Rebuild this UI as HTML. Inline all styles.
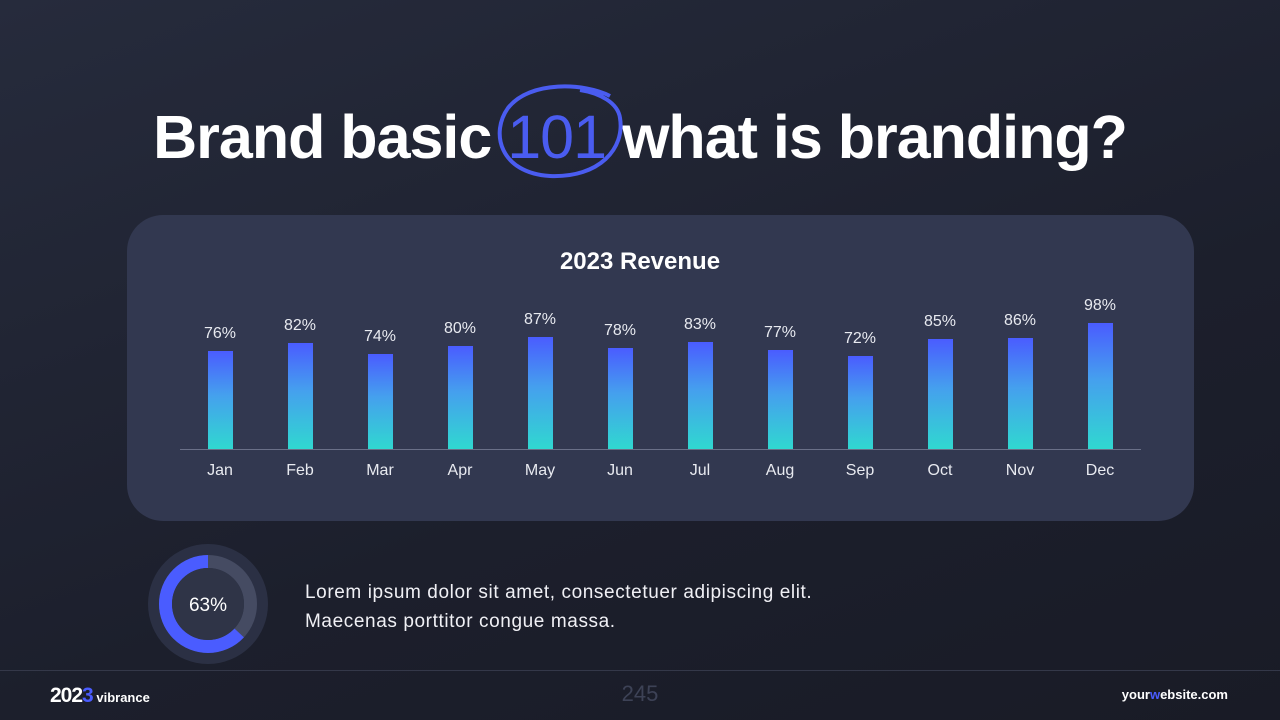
<!DOCTYPE html>
<html><head><meta charset="utf-8"><style>
body{margin:0;width:1280px;height:720px;overflow:hidden;background:linear-gradient(160deg,#262b3c 0%,#1c1f2c 60%,#191b26 100%);font-family:"Liberation Sans",sans-serif;position:relative;color:#fff}
.t{position:absolute;left:0;width:1280px;top:102px;text-align:center;font-size:61px;font-weight:bold;letter-spacing:-1px}
.card{position:absolute;left:127px;top:215px;width:1067px;height:306px;border-radius:36px;background:#323850}
.bar{position:absolute;width:25px;background:linear-gradient(#4a5cff,#45a0ee 45%,#30d8d0)}
.v,.m{position:absolute;width:80px;text-align:center;font-size:16px;color:#e8eaf0}
</style></head><body>
<div class="t">Brand basic <span style="color:#4a5cf0;font-weight:normal">101</span> what is branding?</div>
<svg style="position:absolute;left:490px;top:78px" width="150" height="110"><path d="M120 18 C95 5 40 2 18 30 C0 55 10 95 60 98 C110 100 135 70 130 40 C128 25 110 15 90 12" fill="none" stroke="#4a5cf0" stroke-width="4"/></svg>
<div class="card"></div>
<div style="position:absolute;left:0;width:1280px;top:248px;text-align:center;font-size:24px;font-weight:bold">2023 Revenue</div>
<div style="position:absolute;left:180px;top:449px;width:961px;height:1px;background:#6a7088"></div>
<div id="c"></div>
<svg style="position:absolute;left:148px;top:544px" width="120" height="120">
<circle cx="60" cy="60" r="60" fill="#2b3044"/>
<circle cx="60" cy="60" r="42.5" fill="none" stroke="#454b62" stroke-width="13"/>
<circle cx="60" cy="60" r="42.5" fill="none" stroke="#4a5cff" stroke-width="13" stroke-dasharray="168.2 300" transform="rotate(-90 60 60) scale(1,-1) translate(0,-120)"/>
<circle cx="60" cy="60" r="36" fill="#2f3447"/>
<text x="60" y="67" text-anchor="middle" fill="#fff" font-size="19" font-family="Liberation Sans">63%</text>
</svg>
<div style="position:absolute;left:305px;top:578px;font-size:19px;letter-spacing:0.6px;line-height:29px;color:#f0f0f5">Lorem ipsum dolor sit amet, consectetuer adipiscing elit.<br>Maecenas porttitor congue massa.</div>
<div style="position:absolute;left:0;top:670px;width:1280px;height:1px;background:#343849"></div>
<div style="position:absolute;left:50px;top:684px;font-size:21px;font-weight:bold;letter-spacing:-1px">202<span style="color:#4a5cff">3</span><span style="font-size:13px;letter-spacing:0"> vibrance</span></div>
<div style="position:absolute;left:0;width:1280px;top:681px;text-align:center;font-size:22px;color:#3d4256">245</div>
<div style="position:absolute;right:52px;top:687px;font-size:13px;font-weight:bold">your<span style="color:#4a5cff">w</span>ebsite.com</div>
<script>
var d=[76,82,74,80,87,78,83,77,72,85,86,98],m="Jan Feb Mar Apr May Jun Jul Aug Sep Oct Nov Dec".split(" "),h="";
d.forEach(function(v,i){var cx=220+80*i,H=v*1.29,top=449-H;
h+='<div class="bar" style="left:'+(cx-12.5)+'px;top:'+top+'px;height:'+H+'px"></div>';
h+='<div class="v" style="left:'+(cx-40)+'px;top:'+(top-26)+'px">'+v+'%</div>';
h+='<div class="m" style="left:'+(cx-40)+'px;top:462px">'+m[i]+'</div>';});
document.getElementById("c").innerHTML=h;
</script>
</body></html>
